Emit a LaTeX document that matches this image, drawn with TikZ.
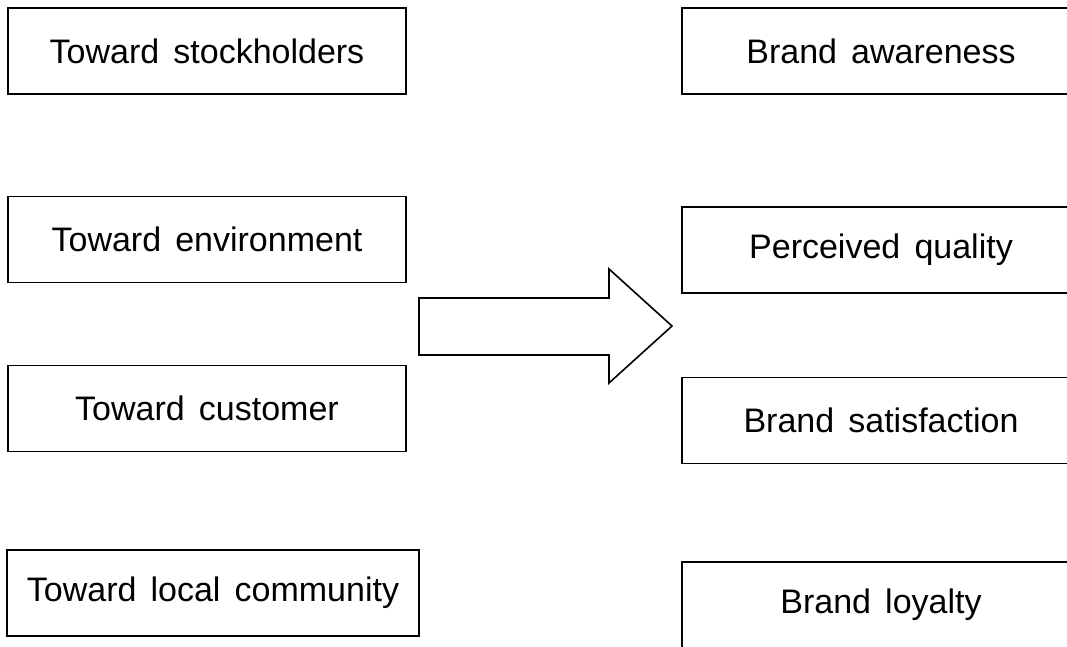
\documentclass[tikz,border=0pt]{standalone}
\usepackage{fontspec}
\setmainfont{Liberation Sans}[WordSpace=1.5]
\begin{document}
\begin{tikzpicture}[x=1pt,y=-1pt,
  box/.style={draw=black, line width=1.6pt, inner sep=0pt, minimum height=86pt,
    font=\fontsize{34}{40}\selectfont},
  lbox/.style={box, minimum width=398pt},
  rbox/.style={box, minimum width=398pt}]
\useasboundingbox (0,0) rectangle (1067,646);
\clip (0,0) rectangle (1067,646);
% left column
\node[lbox] (stock) at (207,51) {Toward stockholders};
\node[lbox] (env) at (207,239.5) {Toward environment};
\node[lbox] (cust) at (207,408.5) {Toward customer};
\node[box, minimum width=412pt] (comm) at (213,593) {Toward local community};
% right column
\node[rbox] (aware) at (881,51) {Brand awareness};
\node[rbox] (qual) at (881,250) {Perceived quality};
\node[rbox] (sat) at (881,420.5) {Brand satisfaction};
\node[rbox] (loyal) at (881,605) {Brand loyalty};
% block arrow
\draw[line width=1.6pt, line join=miter]
  (419,298) -- (609,298) -- (609,269) -- (672,326) -- (609,383) -- (609,355) -- (419,355) -- cycle;
\end{tikzpicture}
\end{document}
